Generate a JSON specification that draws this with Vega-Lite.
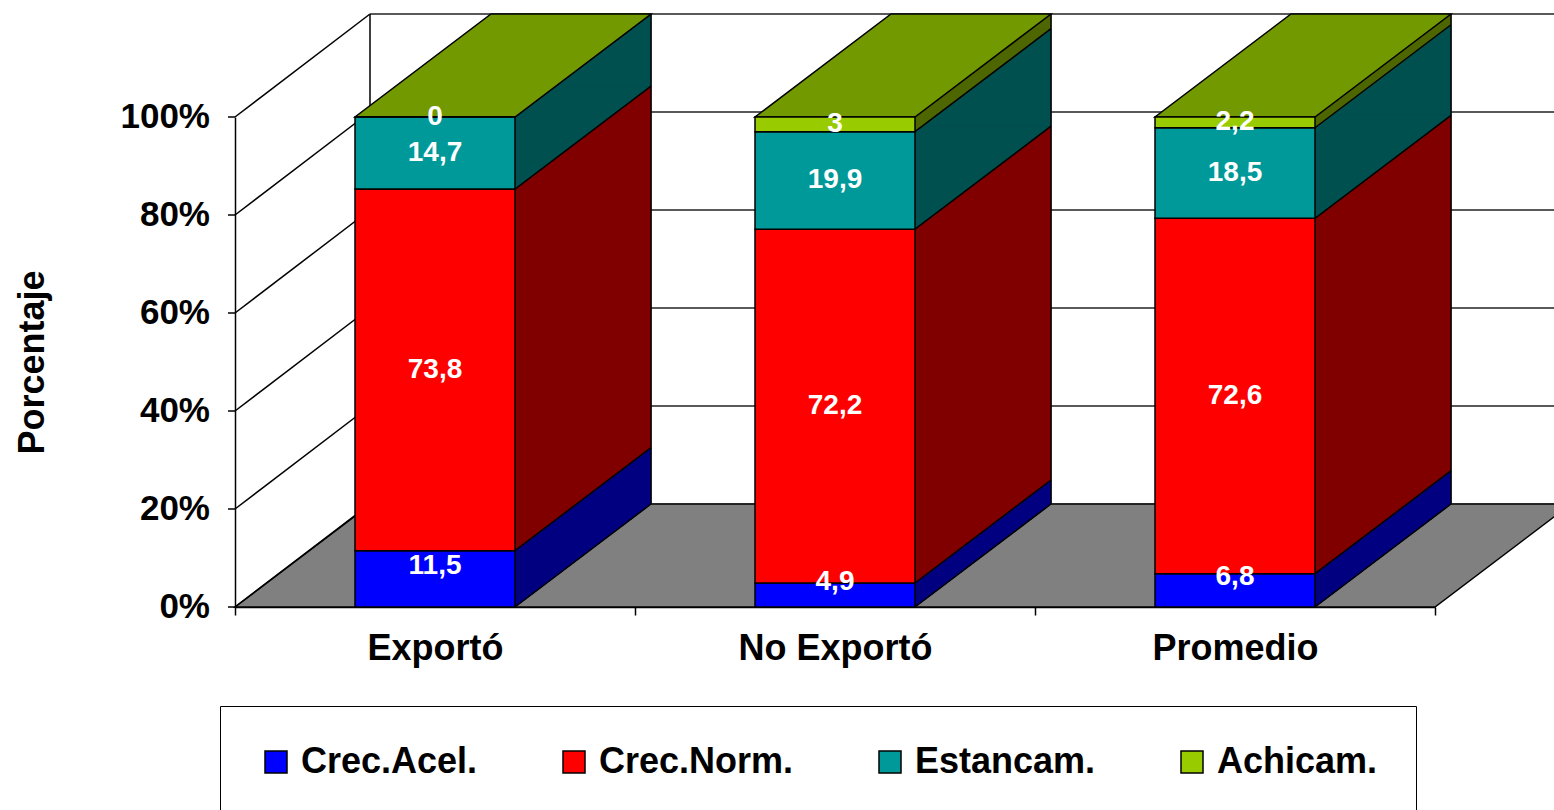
{
  "$schema": "https://vega.github.io/schema/vega-lite/v6.json",
  "width": 1200,
  "height": 490,
  "autosize": {"type": "none"},
  "padding": {"left": 235, "top": 117, "right": 119, "bottom": 203},
  "background": "white",
  "datasets": {
    "datos": [
      {"categoria": "Exportó", "serie": "Crec.Acel.", "valor": 11.5, "orden": 1},
      {"categoria": "Exportó", "serie": "Crec.Norm.", "valor": 73.8, "orden": 2},
      {"categoria": "Exportó", "serie": "Estancam.", "valor": 14.7, "orden": 3},
      {"categoria": "Exportó", "serie": "Achicam.", "valor": 0, "orden": 4},
      {"categoria": "No Exportó", "serie": "Crec.Acel.", "valor": 4.9, "orden": 1},
      {"categoria": "No Exportó", "serie": "Crec.Norm.", "valor": 72.2, "orden": 2},
      {"categoria": "No Exportó", "serie": "Estancam.", "valor": 19.9, "orden": 3},
      {"categoria": "No Exportó", "serie": "Achicam.", "valor": 3, "orden": 4},
      {"categoria": "Promedio", "serie": "Crec.Acel.", "valor": 6.8, "orden": 1},
      {"categoria": "Promedio", "serie": "Crec.Norm.", "valor": 72.6, "orden": 2},
      {"categoria": "Promedio", "serie": "Estancam.", "valor": 18.5, "orden": 3},
      {"categoria": "Promedio", "serie": "Achicam.", "valor": 2.2, "orden": 4}
    ],
    "rejilla": [{"g": 0}, {"g": 0.2}, {"g": 0.4}, {"g": 0.6}, {"g": 0.8}, {"g": 1}]
  },
  "data": {"name": "datos"},
  "resolve": {"scale": {"color": "independent", "stroke": "independent"}},
  "layer": [
    {
      "data": {"values": [{"k": 1}]},
      "mark": {"type": "point", "shape": "M-6,0L6,0L7.36,-1.03L-4.64,-1.03Z", "size": 40000, "filled": true, "fill": "#808080", "stroke": "black", "strokeWidth": 1.5, "opacity": 1},
      "encoding": {
        "x": {"datum": "No Exportó", "type": "nominal", "title": null},
        "y": {"datum": 0, "type": "quantitative", "title": "Porcentaje"}
      }
    },
    {
      "data": {"name": "rejilla"},
      "mark": {"type": "rule", "color": "#222222", "strokeWidth": 1.5, "xOffset": -65, "x2Offset": 335, "yOffset": -103},
      "encoding": {
        "x": {"datum": "Exportó", "type": "nominal", "title": null},
        "x2": {"datum": "Promedio"},
        "y": {"field": "g", "type": "quantitative", "title": "Porcentaje"}
      }
    },
    {
      "data": {"values": [{"k": 1}]},
      "mark": {"type": "rule", "color": "black", "strokeWidth": 1.5, "xOffset": -65, "yOffset": -103, "y2Offset": -103},
      "encoding": {
        "x": {"datum": "Exportó", "type": "nominal", "title": null},
        "y": {"datum": 0, "type": "quantitative", "title": "Porcentaje"},
        "y2": {"datum": 1}
      }
    },
    {
      "data": {"name": "rejilla"},
      "mark": {"type": "point", "shape": "M0,0L1.35,-1.03", "size": 40000, "filled": false, "stroke": "black", "strokeWidth": 1.5, "opacity": 1, "xOffset": -200},
      "encoding": {
        "x": {"datum": "Exportó", "type": "nominal", "title": null},
        "y": {"field": "g", "type": "quantitative", "title": "Porcentaje"}
      }
    },
    {
      "data": {"name": "rejilla"},
      "mark": {"type": "point", "shape": "M-0.7,0L0,0", "size": 400, "filled": false, "stroke": "black", "strokeWidth": 1.5, "opacity": 1, "xOffset": -200},
      "encoding": {
        "x": {"datum": "Exportó", "type": "nominal", "title": null},
        "y": {"field": "g", "type": "quantitative", "title": "Porcentaje"}
      }
    },
    {
      "data": {"name": "rejilla"},
      "mark": {"type": "text", "align": "right", "baseline": "middle", "fontSize": 35, "fontWeight": "bold", "color": "black", "font": "Liberation Sans", "xOffset": -225},
      "encoding": {
        "x": {"datum": "Exportó", "type": "nominal", "title": null},
        "y": {"field": "g", "type": "quantitative", "title": "Porcentaje"},
        "text": {"field": "g", "type": "quantitative", "format": ".0%"}
      }
    },
    {
      "mark": {"type": "bar", "width": 136, "xOffset": 148, "yOffset": -103, "y2Offset": -103, "strokeWidth": 1},
      "encoding": {
        "x": {"field": "categoria", "type": "nominal", "title": null},
        "y": {"field": "valor", "type": "quantitative", "stack": "normalize", "title": "Porcentaje"},
        "color": {"field": "serie", "type": "nominal", "legend": null,
          "scale": {"domain": ["Crec.Acel.", "Crec.Norm.", "Estancam.", "Achicam."], "range": ["#000080", "#800000", "#005050", "#4D6600"]}},
        "stroke": {"field": "serie", "type": "nominal", "legend": null,
          "scale": {"domain": ["Crec.Acel.", "Crec.Norm.", "Estancam.", "Achicam."], "range": ["#000080", "#800000", "#005050", "#4D6600"]}},
        "order": {"field": "orden"}
      }
    },
    {
      "mark": {"type": "point", "shape": "M0,0L0,-1.03L1.36,-1.03Z", "size": 40000, "filled": true, "opacity": 1, "strokeWidth": 1, "xOffset": 80},
      "encoding": {
        "x": {"field": "categoria", "type": "nominal", "title": null},
        "y": {"field": "valor", "type": "quantitative", "stack": "normalize", "bandPosition": 0, "title": "Porcentaje"},
        "color": {"field": "serie", "type": "nominal", "legend": null,
          "scale": {"domain": ["Crec.Acel.", "Crec.Norm.", "Estancam.", "Achicam."], "range": ["#000080", "#800000", "#005050", "#4D6600"]}},
        "stroke": {"field": "serie", "type": "nominal", "legend": null,
          "scale": {"domain": ["Crec.Acel.", "Crec.Norm.", "Estancam.", "Achicam."], "range": ["#000080", "#800000", "#005050", "#4D6600"]}},
        "order": {"field": "orden"}
      }
    },
    {
      "mark": {"type": "point", "shape": "M0,0L1.36,-1.03", "size": 40000, "filled": false, "stroke": "black", "strokeWidth": 1.5, "opacity": 1, "xOffset": 80},
      "encoding": {
        "x": {"field": "categoria", "type": "nominal", "title": null},
        "y": {"field": "valor", "type": "quantitative", "stack": "normalize", "bandPosition": 0, "title": "Porcentaje"},
        "detail": {"field": "serie"},
        "order": {"field": "orden"}
      }
    },
    {
      "transform": [{"aggregate": [{"op": "count", "as": "n"}], "groupby": ["categoria"]}],
      "mark": {"type": "rule", "color": "black", "strokeWidth": 1.5, "xOffset": 216, "yOffset": -103, "y2Offset": -103},
      "encoding": {
        "x": {"field": "categoria", "type": "nominal", "title": null},
        "y": {"datum": 0, "type": "quantitative", "title": "Porcentaje"},
        "y2": {"datum": 1}
      }
    },
    {
      "transform": [{"aggregate": [{"op": "count", "as": "n"}], "groupby": ["categoria"]}],
      "mark": {"type": "point", "shape": "M0,0L1.6,0L2.96,-1.03L1.36,-1.03Z", "size": 40000, "filled": true, "fill": "#739900", "stroke": "black", "strokeWidth": 1.5, "opacity": 1, "xOffset": -80},
      "encoding": {
        "x": {"field": "categoria", "type": "nominal", "title": null},
        "y": {"datum": 1, "type": "quantitative", "title": "Porcentaje"}
      }
    },
    {
      "mark": {"type": "bar", "width": 160, "stroke": "black", "strokeWidth": 1.5},
      "encoding": {
        "x": {"field": "categoria", "type": "nominal", "title": null,
          "scale": {"paddingInner": 0, "paddingOuter": 0}},
        "y": {"field": "valor", "type": "quantitative", "stack": "normalize", "title": "Porcentaje",
          "scale": {"domain": [0, 1], "nice": false}},
        "color": {"field": "serie", "type": "nominal",
          "scale": {"domain": ["Crec.Acel.", "Crec.Norm.", "Estancam.", "Achicam."], "range": ["#0000FF", "#FF0000", "#009999", "#99CC00"]},
          "legend": {"orient": "none", "legendX": -15, "legendY": 589, "direction": "horizontal", "title": null,
            "strokeColor": "black", "fillColor": "white", "padding": 38,
            "symbolType": "square", "symbolSize": 484, "symbolStrokeColor": "black", "symbolStrokeWidth": 1.5, "symbolOpacity": 1,
            "labelFontSize": 36, "labelFontWeight": "bold", "labelColor": "black", "labelFont": "Liberation Sans",
            "labelOffset": 7, "labelLimit": 400, "columnPadding": 78}},
        "order": {"field": "orden"}
      }
    },
    {
      "mark": {"type": "text", "fontSize": 28, "fontWeight": "bold", "color": "white", "font": "Liberation Sans", "align": "center", "baseline": "middle",
        "dy": {"expr": "datum.serie === 'Crec.Acel.' ? -13 : 0"}},
      "encoding": {
        "x": {"field": "categoria", "type": "nominal", "title": null},
        "y": {"field": "valor", "type": "quantitative", "stack": "normalize", "bandPosition": 0.5, "title": "Porcentaje"},
        "text": {"field": "valor", "type": "quantitative", "format": "~g"},
        "detail": {"field": "serie"},
        "order": {"field": "orden"}
      }
    }
  ],
  "config": {
    "font": "Liberation Sans",
    "view": {"stroke": null},
    "locale": {"number": {"decimal": ",", "thousands": ".", "grouping": [3], "currency": ["", " €"]}},
    "axisX": {"labelAngle": 0, "labelFontSize": 36, "labelFontWeight": "bold", "labelColor": "black", "labelFont": "Liberation Sans", "labelLimit": 400,
      "domainColor": "black", "domainWidth": 1.5, "tickColor": "black", "tickWidth": 1.5, "tickSize": 8, "labelPadding": 16, "tickBand": "extent", "zindex": 1, "grid": false},
    "axisY": {"grid": false, "labels": false, "ticks": false,
      "domainColor": "black", "domainWidth": 1.5,
      "titleFontSize": 36, "titleFontWeight": "bold", "titleColor": "black", "titleFont": "Liberation Sans",
      "titleX": -203, "titleY": 245, "titleAngle": 270, "titleBaseline": "middle", "titleAlign": "center", "zindex": 1}
  }
}
